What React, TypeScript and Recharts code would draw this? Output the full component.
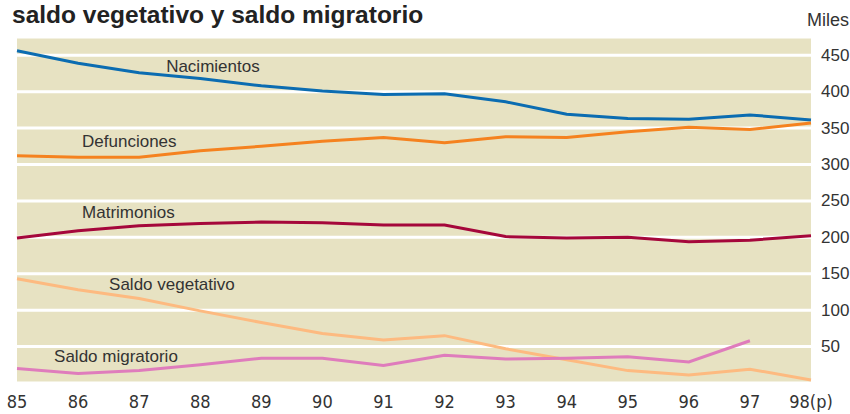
import { LineChart, Line, XAxis, YAxis, CartesianGrid } from "recharts";

// years on the x axis
const years = ["85", "86", "87", "88", "89", "90", "91", "92", "93", "94", "95", "96", "97", "98(p)"];

// values in thousands
const nacimientos = [456, 439, 426, 418, 408, 401, 396, 397, 386, 369, 363, 362, 368, 361];
const defunciones = [312, 310, 310, 319, 325, 332, 337, 330, 338, 337, 345, 351, 348, 357];
const matrimonios = [199, 209, 216, 219, 221, 220, 217, 217, 201, 199, 200, 194, 196, 202];
const saldoVegetativo = [143, 128, 116, 99, 83, 68, 59, 65, 47, 32, 17, 11, 19, 4];
const saldoMigratorio: (number | null)[] = [20, 13, 17, 25, 34, 34, 24, 38, 33, 34, 36, 29, 58, null];

const yTicks = [50, 100, 150, 200, 250, 300, 350, 400, 450];

const data = years.map((year, i) => ({
    year,
    nacimientos: nacimientos[i],
    defunciones: defunciones[i],
    matrimonios: matrimonios[i],
    saldoVegetativo: saldoVegetativo[i],
    saldoMigratorio: saldoMigratorio[i],
}));

const TEXT = "#333";
const SANS = "'Liberation Sans', Arial, sans-serif";
const NARROW = "'Liberation Sans Narrow', 'DejaVu Sans Condensed', sans-serif";

// series name written next to its line, anchored on one point
const series = [
    { key: "nacimientos", name: "Nacimientos", color: "#0b6cb1", at: 2, dx: 27, dy: -6 },
    { key: "defunciones", name: "Defunciones", color: "#f5821f", at: 1, dx: 4, dy: -16 },
    { key: "matrimonios", name: "Matrimonios", color: "#a5073b", at: 1, dx: 4, dy: -18 },
    { key: "saldoVegetativo", name: "Saldo vegetativo", color: "#fdba80", at: 1, dx: 31, dy: -5 },
    { key: "saldoMigratorio", name: "Saldo migratorio", color: "#df7cbc", at: 1, dx: -24, dy: -17 },
];

function seriesLabel(name: string, at: number, dx: number, dy: number) {
    return (props: any) => {
        if (props.index !== at) return null;
        return (
            <text
                x={props.x + dx}
                y={props.y + dy}
                fill={TEXT}
                fontSize={17}
                fontFamily={SANS}
                dominantBaseline="central"
            >
                {name}
            </text>
        );
    };
}

function XTick({ x, y, payload }: any) {
    return (
        <text x={x} y={y + 18} textAnchor="middle" dominantBaseline="central" fill={TEXT} fontSize={18} fontFamily={NARROW}>
            {payload.value}
        </text>
    );
}

function YTick({ x, y, payload }: any) {
    return (
        <text x={x + 10} y={y} textAnchor="start" dominantBaseline="central" fill={TEXT} fontSize={17} fontFamily={SANS}>
            {payload.value}
        </text>
    );
}

export default function App() {
    return (
        <div style={{ position: "absolute", left: 0, top: 0, width: 850, height: 414, background: "#fff" }}>
            <div
                style={{
                    position: "absolute",
                    left: 12,
                    top: 1,
                    fontFamily: SANS,
                    fontWeight: "bold",
                    fontSize: 24.5,
                    color: "#222",
                    whiteSpace: "nowrap",
                }}
            >
                saldo vegetativo y saldo migratorio
            </div>
            <div
                style={{
                    position: "absolute",
                    left: 807,
                    top: 10,
                    fontFamily: SANS,
                    fontSize: 18,
                    color: TEXT,
                }}
            >
                Miles
            </div>
            <LineChart width={850} height={414} data={data} margin={{ top: 37, right: 0, left: 17, bottom: 0 }}>
                <CartesianGrid
                    vertical={false}
                    stroke="#ffffff"
                    strokeWidth={3}
                    fill="#e7e2c2"
                    fillOpacity={1}
                />
                <XAxis
                    dataKey="year"
                    scale="point"
                    padding={{ left: 0, right: 0 }}
                    height={31}
                    axisLine={false}
                    tickLine={false}
                    tickSize={0}
                    tickMargin={0}
                    interval={0}
                    tick={<XTick />}
                />
                <YAxis
                    orientation="right"
                    domain={[0, 475]}
                    ticks={yTicks}
                    width={39}
                    axisLine={false}
                    tickLine={false}
                    tickSize={0}
                    tickMargin={0}
                    tick={<YTick />}
                />
                {series.map((s) => (
                    <Line
                        key={s.key}
                        type="linear"
                        dataKey={s.key}
                        stroke={s.color}
                        strokeWidth={3}
                        dot={false}
                        activeDot={false}
                        isAnimationActive={false}
                        label={seriesLabel(s.name, s.at, s.dx, s.dy)}
                    />
                ))}
            </LineChart>
        </div>
    );
}
